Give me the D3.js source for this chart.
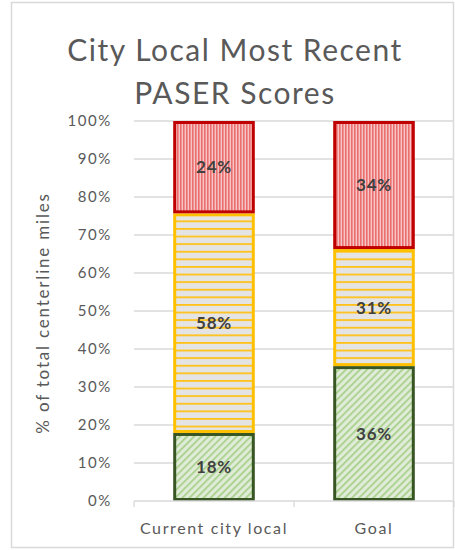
<!DOCTYPE html>
<html>
<head>
<meta charset="utf-8">
<script src="https://cdn.jsdelivr.net/npm/d3@7"></script>
<style>
  body { margin: 0; background: #fff; }
  svg { display: block; font-family: Lato, "Open Sans", sans-serif; }
</style>
</head>
<body>
<svg width="455" height="550"></svg>
<script>
const svg = d3.select('svg');

// data (percent of total centerline miles)
const categories = ['Current city local', 'Goal'];
const series = ['good', 'fair', 'poor'];
const good = [17.9, 35.5];
const fair = [57.8, 30.8];
const poor = [24.3, 33.7];
const yTicks = [0, 10, 20, 30, 40, 50, 60, 70, 80, 90, 100];

const x0 = 134, x1 = 454;
const yBottom = 501, yTop = 121;

const x = d3.scaleBand().domain(categories).range([x0, x1])
    .paddingInner(0.49).paddingOuter(0.245);
const y = d3.scaleLinear().domain([0, 100]).range([yBottom, yTop]);

// chart border
svg.append('rect')
    .attr('x', 11.5).attr('y', 2.5)
    .attr('width', 442).attr('height', 545)
    .attr('fill', 'none')
    .attr('stroke', '#d9d9d9')
    .attr('stroke-width', 1.5);

// patterns, like excel's pattern fills
const defs = svg.append('defs');

const pPoor = defs.append('pattern').attr('id', 'pPoor')
    .attr('patternUnits', 'userSpaceOnUse').attr('width', 3).attr('height', 3);
pPoor.append('rect').attr('width', 3).attr('height', 3).attr('fill', '#f6c4c4');
pPoor.append('rect').attr('width', 1.6).attr('height', 3).attr('fill', '#ec6f6f');

const pFair = defs.append('pattern').attr('id', 'pFair')
    .attr('patternUnits', 'userSpaceOnUse').attr('width', 8).attr('height', 7.6);
pFair.append('rect').attr('width', 8).attr('height', 7.6).attr('fill', '#e4e4e4');
pFair.append('rect').attr('y', 0).attr('width', 8).attr('height', 1.8).attr('fill', '#ffc21a');

const pGood = defs.append('pattern').attr('id', 'pGood')
    .attr('patternUnits', 'userSpaceOnUse').attr('width', 5).attr('height', 5)
    .attr('patternTransform', 'rotate(45)');
pGood.append('rect').attr('width', 5).attr('height', 5).attr('fill', '#e0ecd8');
pGood.append('rect').attr('width', 1.8).attr('height', 5).attr('fill', '#a9d18e');

const fills = {good: 'url(#pGood)', fair: 'url(#pFair)', poor: 'url(#pPoor)'};
const strokes = {good: '#375623', fair: '#ffc000', poor: '#c00000'};

// gridlines
svg.append('g')
    .selectAll('line')
    .data(yTicks.slice(1))
    .join('line')
    .attr('x1', x0).attr('x2', x1)
    .attr('y1', d => y(d)).attr('y2', d => y(d))
    .attr('stroke', '#d9d9d9')
    .attr('stroke-width', 1.3);

// y axis labels
const yAxis = svg.append('g')
    .attr('transform', `translate(${x0},0)`)
    .call(d3.axisLeft(y).tickValues(yTicks).tickSize(0).tickPadding(22).tickFormat(d => d + '%'));
yAxis.select('.domain').remove();
yAxis.selectAll('text')
    .attr('font-size', 15)
    .attr('letter-spacing', 1.6)
    .attr('font-family', 'Lato, "Open Sans", sans-serif')
    .attr('fill', '#595959');

// stacked data
const rows = categories.map((c, i) => ({cat: c, good: good[i], fair: fair[i], poor: poor[i]}));
const stacked = d3.stack().keys(series)(rows);

const layers = svg.append('g')
    .selectAll('g')
    .data(stacked)
    .join('g');

layers.selectAll('rect')
    .data(d => d.map(v => ({key: d.key, v: v})))
    .join('rect')
    .attr('x', d => x(d.v.data.cat) + 1.5)
    .attr('width', x.bandwidth() - 3)
    .attr('y', d => y(d.v[1]) + 1.5)
    .attr('height', d => y(d.v[0]) - y(d.v[1]) - 3)
    .attr('fill', d => fills[d.key])
    .attr('stroke', d => strokes[d.key])
    .attr('stroke-width', 3);

// value labels
layers.selectAll('text')
    .data(d => d.map(v => ({key: d.key, v: v})))
    .join('text')
    .attr('x', d => x(d.v.data.cat) + x.bandwidth() / 2)
    .attr('y', d => (y(d.v[0]) + y(d.v[1])) / 2)
    .attr('dy', '0.35em')
    .attr('text-anchor', 'middle')
    .attr('font-size', 17)
    .attr('font-weight', 'bold')
    .attr('letter-spacing', 0.8)
    .attr('fill', '#404040')
    .text(d => Math.round(d.v[1] - d.v[0]) + '%');

// x axis
svg.append('line')
    .attr('x1', x0).attr('x2', x1)
    .attr('y1', yBottom).attr('y2', yBottom)
    .attr('stroke', '#d9d9d9').attr('stroke-width', 1.3);

const xAxis = svg.append('g')
    .attr('transform', `translate(0,${yBottom})`)
    .call(d3.axisBottom(x).tickSize(0).tickPadding(22));
xAxis.select('.domain').remove();
xAxis.selectAll('text')
    .attr('font-size', 16)
    .attr('letter-spacing', 1.6)
    .attr('font-family', 'Lato, "Open Sans", sans-serif')
    .attr('fill', '#595959');

// category separator ticks
svg.append('g')
    .selectAll('line')
    .data(d3.range(categories.length + 1))
    .join('line')
    .attr('x1', i => x0 + i * x.step())
    .attr('x2', i => x0 + i * x.step())
    .attr('y1', yBottom).attr('y2', yBottom + 6)
    .attr('stroke', '#d9d9d9').attr('stroke-width', 1.3);

// y axis title
svg.append('text')
    .attr('transform', `translate(49,${(yTop + yBottom) / 2 + 2}) rotate(-90)`)
    .attr('text-anchor', 'middle')
    .attr('font-size', 17)
    .attr('letter-spacing', 1.8)
    .attr('fill', '#595959')
    .text('% of total centerline miles');

// title
const title = svg.append('text')
    .attr('text-anchor', 'middle')
    .attr('font-size', 30)
    .attr('letter-spacing', 1.5)
    .attr('fill', '#595959');
title.append('tspan').attr('x', 235).attr('y', 61).text('City Local Most Recent');
title.append('tspan').attr('x', 235).attr('y', 104).text('PASER Scores');
</script>
</body>
</html>
